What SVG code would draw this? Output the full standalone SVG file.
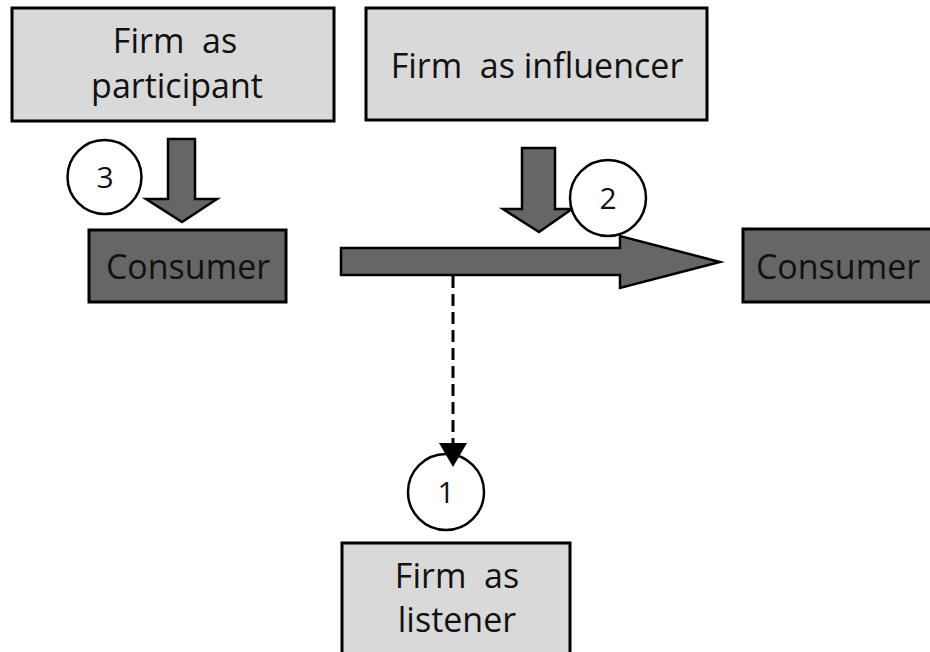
<svg xmlns="http://www.w3.org/2000/svg" width="930" height="652" viewBox="0 0 930 652">
<style>
.light{fill:#d9d9d9;stroke:#000;stroke-width:3}
.dark{fill:#666666;stroke:#000;stroke-width:3}
.arr{fill:#666666;stroke:#000;stroke-width:2.5;stroke-linejoin:miter}
.circ{fill:#fff;stroke:#000;stroke-width:2.5}
text{font-family:"Open Sans","Liberation Sans",sans-serif;fill:#111;text-anchor:middle;white-space:pre}
.lbl{font-size:34px}
.num{font-size:30px}
</style>
<rect width="930" height="652" fill="#fff"/>
<g id="connectors">
<polygon class="arr" points="341,248 620,248 620,236 720,262 620,288 620,275 341,275"/>
<polygon class="arr" points="168,139 195,139 195,199 217,199 182,222 146,199 168,199"/>
<polygon class="arr" points="522,148 555,148 555,209 572,209 539,232 503,209 522,209"/>
<line x1="453" y1="276" x2="453" y2="446" stroke="#000" stroke-width="3" stroke-dasharray="12,6"/>
</g>
<g id="participant">
<rect class="light" x="12" y="8" width="322" height="113"/>
<text class="lbl" x="175" y="53">Firm  as</text>
<text class="lbl" x="177" y="98">participant</text>
</g>
<g id="influencer">
<rect class="light" x="366" y="8" width="341" height="112"/>
<text class="lbl" x="537" y="78">Firm  as influencer</text>
</g>
<g id="consumer-left">
<rect class="dark" x="89" y="230" width="197" height="72"/>
<text class="lbl" x="188" y="279">Consumer</text>
</g>
<g id="consumer-right">
<rect class="dark" x="743" y="229" width="192" height="73"/>
<text class="lbl" x="838" y="279">Consumer</text>
</g>
<g id="listener">
<rect class="light" x="342" y="543" width="228" height="115"/>
<text class="lbl" x="457" y="588">Firm  as</text>
<text class="lbl" x="457" y="632">listener</text>
</g>
<g id="circle-3">
<circle class="circ" cx="104.5" cy="177" r="37"/>
<text class="num" x="105" y="188">3</text>
</g>
<g id="circle-2">
<circle class="circ" cx="608" cy="198" r="38"/>
<text class="num" x="608" y="209">2</text>
</g>
<g id="circle-1">
<circle class="circ" cx="446" cy="492" r="38"/>
<text class="num" x="446" y="503">1</text>
<polygon points="439,443 467,443 453,467" fill="#000"/>
</g>
</svg>
